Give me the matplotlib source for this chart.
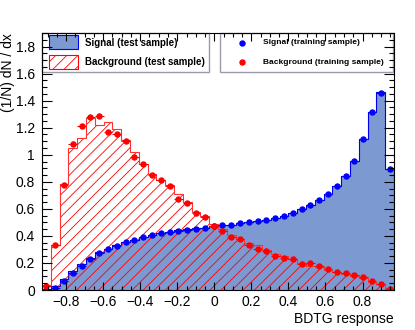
import numpy as np
import matplotlib
matplotlib.use('Agg')
import matplotlib.pyplot as plt
from matplotlib.patches import Rectangle
from matplotlib.ticker import MultipleLocator, FuncFormatter

plt.rcParams['font.family'] = ['Liberation Sans', 'DejaVu Sans']
plt.rcParams['hatch.linewidth'] = 0.6

# binning of the BDTG response
xmin, xmax, nbins = -0.93, 0.97, 40

# signal, test sample (filled histogram)
sig_test = [0.005, 0.026, 0.078, 0.14, 0.194, 0.236, 0.28, 0.305, 0.335, 0.354,
            0.37, 0.39, 0.405, 0.42, 0.43, 0.44, 0.45, 0.455, 0.46, 0.47,
            0.478, 0.483, 0.495, 0.50, 0.507, 0.52, 0.532, 0.547, 0.569, 0.60,
            0.626, 0.663, 0.707, 0.767, 0.84, 0.954, 1.115, 1.315, 1.465, 0.895]
# background, test sample (hatched histogram)
bkg_test = [0.04, 0.335, 0.78, 1.05, 1.125, 1.27, 1.22, 1.24, 1.19, 1.107,
            1.02, 0.935, 0.86, 0.816, 0.774, 0.71, 0.65, 0.576, 0.544, 0.49,
            0.453, 0.404, 0.38, 0.347, 0.33, 0.298, 0.268, 0.248, 0.231, 0.20,
            0.175, 0.17, 0.145, 0.132, 0.12, 0.107, 0.09, 0.06, 0.042, 0.016]
# training samples (points)
sig_train = [0.0, 0.016, 0.07, 0.127, 0.18, 0.226, 0.273, 0.30, 0.325, 0.352,
             0.372, 0.39, 0.404, 0.42, 0.428, 0.436, 0.446, 0.453, 0.458, 0.474,
             0.48, 0.483, 0.495, 0.50, 0.507, 0.52, 0.532, 0.547, 0.569, 0.598,
             0.626, 0.663, 0.707, 0.767, 0.84, 0.954, 1.115, 1.315, 1.46, 0.893]
bkg_train = [0.033, 0.33, 0.774, 1.083, 1.21, 1.28, 1.29, 1.165, 1.15, 1.10,
             0.98, 0.935, 0.85, 0.81, 0.767, 0.675, 0.64, 0.57, 0.54, 0.475,
             0.436, 0.39, 0.374, 0.336, 0.303, 0.292, 0.248, 0.236, 0.228, 0.194,
             0.199, 0.176, 0.157, 0.132, 0.127, 0.112, 0.095, 0.068, 0.044, 0.009]

edges = np.linspace(xmin, xmax, nbins + 1)
centers = 0.5 * (edges[1:] + edges[:-1])
width = edges[1] - edges[0]

sig_fill = '#7d99d1'
sig_line = '#0000ee'
red = '#ff0000'

fig = plt.figure(figsize=(4.15, 3.30), dpi=100)
W, H = 415, 330
L, R, T, B = 42, 394, 33, 290
ax = fig.add_axes([L / W, 1 - B / H, (R - L) / W, (B - T) / H])

ax.stairs(sig_test, edges, fill=True, facecolor=sig_fill, edgecolor='none', zorder=1)
ax.stairs(sig_test, edges, baseline=0, fill=False, edgecolor=sig_line, linewidth=0.8, zorder=1.1)
ax.stairs(bkg_test, edges, fill=True, facecolor='none', edgecolor=red, hatch='///',
          linewidth=0, zorder=1.2)
ax.stairs(bkg_test, edges, baseline=0, fill=False, edgecolor='#ff3030', linewidth=0.8, zorder=1.3)

ax.errorbar(centers, sig_train, xerr=width / 2, yerr=0.012, fmt='o', color='#0000ff',
            ms=3.6, elinewidth=0.8, capsize=0, zorder=2)
ax.errorbar(centers, bkg_train, xerr=width / 2, yerr=0.015, fmt='o', color=red,
            ms=3.6, elinewidth=0.8, capsize=0, zorder=2)

ax.set_xlim(xmin, xmax)
ax.set_ylim(0, 1.9)
ax.set_axisbelow(False)

fmt = FuncFormatter(lambda v, p: ('%g' % round(v, 3)).replace('-', '\u2212'))
ax.xaxis.set_major_locator(MultipleLocator(0.2))
ax.xaxis.set_minor_locator(MultipleLocator(0.05))
ax.yaxis.set_major_locator(MultipleLocator(0.2))
ax.yaxis.set_minor_locator(MultipleLocator(0.05))
ax.xaxis.set_major_formatter(fmt)
ax.yaxis.set_major_formatter(fmt)
ax.tick_params(axis='x', which='major', direction='in', length=5.8, width=0.8,
               top=True, labelsize=10, pad=3.5)
ax.tick_params(axis='x', which='minor', direction='in', length=2.9, width=0.8, top=True)
ax.tick_params(axis='y', which='major', direction='in', length=7, width=0.8,
               right=True, labelsize=10, pad=5)
ax.tick_params(axis='y', which='minor', direction='in', length=3.6, width=0.8, right=True)
for s in ax.spines.values():
    s.set_linewidth(0.8)

fig.text(8 / W, 1 - T / H, '(1/N) dN / dx', rotation=90, ha='center', va='top', fontsize=10)
fig.text(R / W, 1 - 319 / H, 'BDTG response', ha='right', va='center', fontsize=10)


def axp(px, py):
    return (px - L) / (R - L), (B - py) / (B - T)


def box(x0, y0, x1, y1, **kw):
    ax0, ay1 = axp(x0, y0)
    ax1, ay0 = axp(x1, y1)
    ax.add_patch(Rectangle((ax0, ay0), ax1 - ax0, ay1 - ay0, transform=ax.transAxes,
                           clip_on=False, **kw))


# legend: test samples
box(L, T, 209, 72, facecolor='white', edgecolor='#9a9aaa', linewidth=1, zorder=2.2)
box(49, 35, 78, 49, facecolor=sig_fill, edgecolor=sig_line, linewidth=0.8, zorder=2.3)
box(49, 55, 78, 69, facecolor='white', edgecolor=red, hatch='///', linewidth=0.8, zorder=2.3)
ax.text(*axp(85, 42.5), 'Signal (test sample)', transform=ax.transAxes, fontsize=7,
        fontweight='bold', va='center', ha='left', zorder=3)
ax.text(*axp(85, 62), 'Background (test sample)', transform=ax.transAxes, fontsize=7,
        fontweight='bold', va='center', ha='left', zorder=3)

# legend: training samples
box(220, T, 393, 72, facecolor='white', edgecolor='#9a9aaa', linewidth=1, zorder=2.2)
ax.plot(*axp(242, 43), 'o', color='#0000ff', ms=3.6, transform=ax.transAxes, clip_on=False, zorder=3)
ax.plot(*axp(242, 62), 'o', color=red, ms=3.6, transform=ax.transAxes, clip_on=False, zorder=3)
ax.text(*axp(263, 42.5), 'Signal (training sample)', transform=ax.transAxes, fontsize=6,
        fontweight='bold', va='center', ha='left', zorder=3)
ax.text(*axp(263, 62), 'Background (training sample)', transform=ax.transAxes, fontsize=6,
        fontweight='bold', va='center', ha='left', zorder=3)

fig.savefig('out.png', dpi=100)
